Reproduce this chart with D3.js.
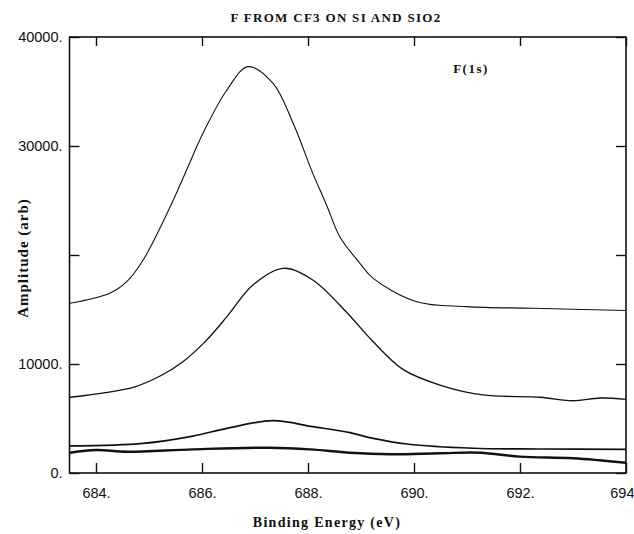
<!DOCTYPE html>
<html>
<head>
<meta charset="utf-8">
<script src="https://cdn.jsdelivr.net/npm/d3@7"></script>
<style>
    body { margin: 0; background: #fff; }
    #chart { width: 634px; height: 534px; }
    .tick text { font-family: "Liberation Sans", Arial, sans-serif; font-size: 14.5px; fill: #111; }
    .tick line { stroke: #111; stroke-width: 1.4px; }
    .lbl { font-family: "Liberation Serif", serif; font-weight: bold; fill: #111; }
</style>
</head>
<body>
<div id="chart"></div>
<script>
// F(1s) spectra, values (eV, counts)
let energy1 = [683.51, 684.26, 684.58, 684.89, 685.40, 685.71, 686.02, 686.47, 686.87, 687.34, 687.72, 688.09, 688.35, 688.60, 688.98, 689.23, 690.05, 690.99, 692.25, 694.0];
let amp1    = [15570, 16490, 17550, 19540, 24430, 27800, 31190, 35140, 37280, 35750, 32080, 27490, 24590, 21680, 19240, 17860, 15720, 15260, 15110, 14910];

let energy2 = [683.51, 684.70, 685.21, 685.64, 686.06, 686.47, 686.96, 687.53, 688.09, 688.74, 689.20, 689.79, 690.49, 691.30, 692.38, 693.00, 693.51, 694.0];
let amp2    = [6950, 7860, 8900, 10210, 12050, 14340, 17250, 18780, 17710, 14680, 12200, 9510, 8070, 7160, 6950, 6630, 6880, 6760];

let energy3 = [683.51, 684.89, 685.83, 686.47, 687.34, 688.09, 688.79, 689.23, 689.87, 691.11, 692.38, 694.0];
let amp3    = [2480, 2720, 3390, 4100, 4800, 4250, 3700, 3180, 2660, 2270, 2200, 2170];

let energy4 = [683.51, 684.01, 684.58, 685.83, 687.28, 688.04, 688.79, 689.55, 690.49, 691.25, 692.0, 693.0, 694.0];
let amp4    = [1860, 2110, 1950, 2170, 2320, 2170, 1860, 1720, 1810, 1860, 1500, 1350, 940];

let xTicks = [684, 686, 688, 690, 692, 694];
let xTickLabels = ["684.", "686.", "688.", "690.", "692.", "694"];
let yTicks = [0, 10000, 20000, 30000, 40000];
let yTickLabels = ["0.", "10000.", "", "30000.", "40000."];

let series = [
    {e: energy1, a: amp1, w: 1.1},
    {e: energy2, a: amp2, w: 1.3},
    {e: energy3, a: amp3, w: 1.7},
    {e: energy4, a: amp4, w: 2.4}
];

let margin = {top: 37, right: 8, bottom: 61, left: 69.5};
let width = 634 - margin.left - margin.right;
let height = 534 - margin.top - margin.bottom;

let svg = d3.select("#chart").append("svg")
    .attr("width", 634)
    .attr("height", 534)
    .append("g")
    .attr("transform", "translate(" + margin.left + "," + margin.top + ")");

let x = d3.scaleLinear().domain([683.5, 694]).range([0, width]);
let y = d3.scaleLinear().domain([0, 40000]).range([height, 0]);

// axes with inward ticks on all four sides
svg.append("g")
    .attr("class", "axis axis--x")
    .attr("transform", "translate(0," + height + ")")
    .call(d3.axisBottom(x).tickValues(xTicks).tickSize(-10).tickPadding(15)
        .tickFormat((d, i) => xTickLabels[i]))
    .call(g => g.select(".domain").remove())
    .call(g => g.selectAll(".tick text").filter((d, i) => i === xTicks.length - 1)
        .attr("text-anchor", "end").attr("x", 8));

svg.append("g")
    .attr("class", "axis axis--top")
    .call(d3.axisTop(x).tickValues(xTicks).tickSize(-9).tickFormat(""))
    .call(g => g.select(".domain").remove());

svg.append("g")
    .attr("class", "axis axis--y")
    .call(d3.axisLeft(y).tickValues(yTicks).tickSize(-10).tickPadding(7)
        .tickFormat((d, i) => yTickLabels[i]))
    .call(g => g.select(".domain").remove());

svg.append("g")
    .attr("class", "axis axis--right")
    .attr("transform", "translate(" + width + ",0)")
    .call(d3.axisRight(y).tickValues(yTicks).tickSize(-10).tickFormat(""))
    .call(g => g.select(".domain").remove());

// frame
svg.append("rect")
    .attr("width", width)
    .attr("height", height)
    .attr("fill", "none")
    .attr("stroke", "#111")
    .attr("stroke-width", 1.6);

let line = d3.line()
    .curve(d3.curveCatmullRom)
    .x(d => x(d[0]))
    .y(d => y(d[1]));

series.forEach(function (s) {
    svg.append("path")
        .datum(s.e.map((e, i) => [e, s.a[i]]))
        .attr("fill", "none")
        .attr("stroke", "#111")
        .attr("stroke-width", s.w)
        .attr("d", line);
});

// titles
svg.append("text")
    .attr("class", "lbl")
    .attr("x", 336 - margin.left)
    .attr("y", -15)
    .attr("text-anchor", "middle")
    .style("font-size", "13px")
    .style("letter-spacing", "1.3px")
    .text("F FROM CF3 ON SI AND SIO2");

svg.append("text")
    .attr("class", "lbl")
    .attr("x", 471 - margin.left)
    .attr("y", 36)
    .attr("text-anchor", "middle")
    .style("font-size", "13px")
    .style("letter-spacing", "1.5px")
    .text("F(1s)");

svg.append("text")
    .attr("class", "lbl")
    .attr("x", 327 - margin.left)
    .attr("y", height + 54)
    .attr("text-anchor", "middle")
    .style("font-size", "14px")
    .style("letter-spacing", "1.3px")
    .text("Binding Energy (eV)");

svg.append("text")
    .attr("class", "lbl")
    .attr("transform", "translate(" + (28 - margin.left) + "," + (258 - margin.top) + ") rotate(-90)")
    .attr("text-anchor", "middle")
    .style("font-size", "15px")
    .style("letter-spacing", "1px")
    .text("Amplitude (arb)");
</script>
</body>
</html>
